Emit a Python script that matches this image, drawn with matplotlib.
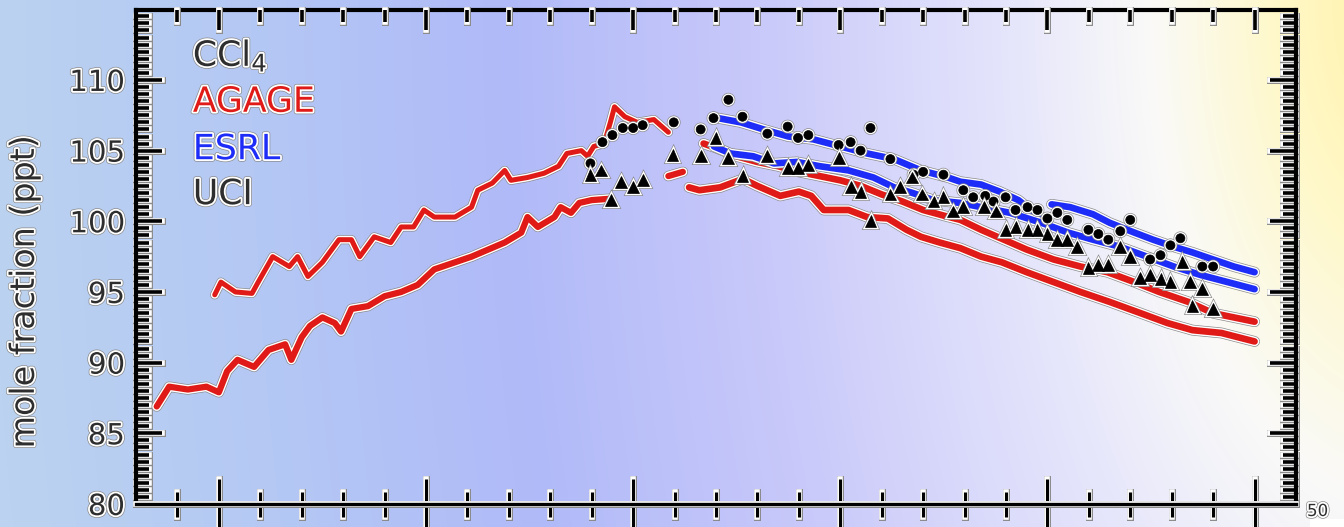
import numpy as np
import matplotlib
matplotlib.use('Agg')
import matplotlib.pyplot as plt
import matplotlib.patheffects as pe
from matplotlib.patches import Rectangle

plt.rcParams['font.family'] = ['DejaVu Sans']
plt.rcParams['mathtext.fontset'] = 'dejavusans'

# ---------------- data ----------------
agage_nh_old_year = [1979.9, 1980.05, 1980.4, 1980.8, 1980.95, 1981.3, 1981.7, 1981.9, 1982.15, 1982.5,
                     1982.9, 1983.2, 1983.4, 1983.75, 1984.15, 1984.4, 1984.7, 1984.95, 1985.2, 1985.7,
                     1986.1, 1986.25, 1986.6, 1986.9, 1987.05, 1987.45, 1987.85, 1988.2, 1988.4, 1988.75,
                     1988.9, 1989.05, 1989.3, 1989.45, 1989.55, 1989.8, 1990.1, 1990.5, 1990.85]
agage_nh_old_val = [94.8, 95.7, 95.0, 94.9, 95.7, 97.5, 96.8, 97.5, 96.1, 97.1,
                    98.7, 98.7, 97.5, 98.9, 98.5, 99.6, 99.6, 100.8, 100.3, 100.3,
                    101.0, 102.2, 102.7, 103.6, 102.9, 103.1, 103.4, 103.9, 104.8, 105.0,
                    104.6, 105.3, 105.5, 107.0, 108.1, 107.4, 107.0, 107.2, 106.3]

agage_sh_old_year = [1978.5, 1978.8, 1979.25, 1979.7, 1980.0, 1980.2, 1980.45, 1980.85, 1981.2, 1981.6,
                     1981.75, 1982.0, 1982.2, 1982.5, 1982.8, 1982.95, 1983.2, 1983.6, 1984.0, 1984.4,
                     1984.8, 1985.2, 1985.6, 1986.1, 1986.5, 1986.9, 1987.3, 1987.45, 1987.7, 1988.1,
                     1988.25, 1988.5, 1988.7, 1989.0, 1989.45]
agage_sh_old_val = [86.9, 88.3, 88.1, 88.3, 87.9, 89.4, 90.2, 89.7, 90.9, 91.3,
                    90.2, 91.8, 92.6, 93.2, 92.8, 92.2, 93.8, 94.0, 94.7, 95.0,
                    95.5, 96.6, 97.0, 97.5, 98.0, 98.5, 99.2, 100.3, 99.6, 100.3,
                    101.0, 100.6, 101.3, 101.5, 101.6]

agage_sh_gap_year = [1990.85, 1991.2]
agage_sh_gap_val = [103.2, 103.5]

agage_nh_new_year = [1991.7, 1992.0, 1992.5, 1993.0, 1993.5, 1994.0, 1994.5, 1995.0, 1995.5, 1996.0,
                     1996.5, 1997.0, 1997.5, 1997.9, 1998.4, 1998.95, 1999.5, 2000.15, 2000.8, 2001.45,
                     2002.1, 2002.7, 2003.4, 2004.0, 2004.5, 2005.0]
agage_nh_new_val = [105.5, 105.2, 104.6, 104.2, 103.9, 103.5, 103.2, 102.9, 102.5, 101.9,
                    101.4, 100.8, 100.4, 100.1, 99.4, 98.7, 98.0, 97.3, 96.8, 96.4,
                    95.7, 95.0, 94.3, 93.5, 93.2, 92.9]

agage_sh_new_year = [1991.35, 1991.6, 1992.1, 1992.65, 1993.0, 1993.55, 1994.0, 1994.3, 1994.6, 1995.2,
                     1995.65, 1996.15, 1996.6, 1996.95, 1997.4, 1997.9, 1998.4, 1998.9, 1999.5, 2000.15,
                     2000.8, 2001.5, 2002.25, 2002.9, 2003.5, 2004.2, 2005.0]
agage_sh_new_val = [102.4, 102.2, 102.4, 103.0, 102.5, 101.8, 102.1, 101.8, 100.8, 100.8,
                    100.3, 100.2, 99.4, 98.9, 98.5, 98.1, 97.5, 97.1, 96.4, 95.7,
                    95.0, 94.3, 93.5, 92.8, 92.3, 92.1, 91.5]

esrl_nh_year = [1992.05, 1992.6, 1993.15, 1993.75, 1994.35, 1995.0, 1995.65, 1996.3, 1996.95, 1997.6,
                1997.9, 1998.4, 1998.85, 1999.3, 1999.6, 1999.8, np.nan, 2000.1, 2000.55, 2001.1,
                2001.5, 2002.1, 2002.55, 2003.05, 2003.5, 2004.0, 2004.5, 2005.0]
esrl_nh_val = [107.3, 107.0, 106.5, 106.0, 105.8, 105.3, 104.8, 104.4, 103.6, 103.1,
               102.8, 102.6, 102.1, 101.5, 100.8, 100.5, np.nan, 101.2, 101.0, 100.5,
               99.9, 99.2, 98.7, 98.2, 97.8, 97.3, 96.8, 96.4]

esrl_sh_year = [1991.95, 1992.35, 1992.9, 1993.4, 1993.95, 1994.5, 1995.2, 1995.8, 1996.3, 1996.75,
                1997.25, 1997.9, 1998.4, 1999.1, 1999.85, 2000.5, 2001.1, 2001.75, 2002.4, 2003.05,
                2003.7, 2004.35, 2005.0]
esrl_sh_val = [105.3, 104.8, 104.6, 104.1, 104.2, 103.9, 103.6, 103.1, 102.4, 102.0,
               101.5, 101.3, 101.0, 100.6, 99.9, 99.2, 98.7, 98.2, 97.5, 96.8,
               96.2, 95.7, 95.2]

uci_nh_year = [1988.97, 1989.26, 1989.5, 1989.75, 1990.0, 1990.23, 1990.98, 1991.63, 1991.94, 1992.3,
               1992.64, 1993.24, 1993.73, 1993.98, 1994.23, 1994.96, 1995.25, 1995.49, 1995.73, 1996.21,
               1996.77, 1997.0, 1997.49, 1997.97, 1998.21, 1998.5, 1998.7, 1998.99, 1999.23, 1999.52,
               1999.76, 2000.0, 2000.24, 2000.48, 2000.99, 2001.23, 2001.47, 2001.76, 2002.0, 2002.48,
               2002.73, 2002.97, 2003.21, 2003.74, 2004.0]
uci_nh_val = [104.1, 105.6, 106.1, 106.6, 106.6, 106.8, 107.0, 106.5, 107.3, 108.6,
              107.4, 106.2, 106.7, 105.9, 106.1, 105.4, 105.6, 105.0, 106.6, 104.4,
              103.3, 103.5, 103.3, 102.2, 101.7, 101.8, 101.4, 101.7, 100.8, 101.0,
              100.8, 100.2, 100.6, 100.1, 99.4, 99.1, 98.7, 99.3, 100.1, 97.3,
              97.6, 98.3, 98.8, 96.8, 96.8]

uci_sh_year = [1988.97, 1989.22, 1989.46, 1989.7, 1989.99, 1990.23, 1990.95, 1991.63, 1991.99, 1992.28,
               1992.64, 1993.24, 1993.73, 1993.98, 1994.23, 1994.96, 1995.25, 1995.49, 1995.73, 1996.21,
               1996.45, 1996.74, 1996.98, 1997.25, 1997.49, 1997.73, 1997.97, 1998.46, 1998.75, 1998.99,
               1999.23, 1999.52, 1999.76, 2000.0, 2000.24, 2000.48, 2000.72, 2000.99, 2001.23, 2001.47,
               2001.76, 2002.0, 2002.24, 2002.48, 2002.73, 2002.97, 2003.26, 2003.45, 2003.5, 2003.74, 2004.0]
uci_sh_val = [103.3, 103.6, 101.5, 102.8, 102.4, 102.9, 104.7, 104.6, 105.9, 104.5,
              103.2, 104.6, 103.8, 103.8, 104.0, 104.5, 102.4, 102.1, 100.0, 101.9,
              102.4, 103.1, 101.9, 101.4, 101.7, 100.7, 101.0, 101.0, 100.7, 99.4,
              99.6, 99.4, 99.4, 99.1, 98.7, 98.7, 98.2, 96.7, 96.9, 96.9,
              98.2, 97.5, 96.0, 96.2, 95.9, 95.7, 97.1, 95.7, 94.0, 95.2, 93.8]

y_major_ticks = [80, 85, 90, 95, 100, 105, 110]
x_major_ticks = [1980, 1985, 1990, 1995, 2000, 2005]
legend_labels = [r'CCl$_{4}$', 'AGAGE', 'ESRL', 'UCI']

# ---------------- styling ----------------
RED = '#e01a16'
BLUE = '#1e2cf8'
TXT = '#2e2e2e'

W, H = 1344, 527
fig = plt.figure(figsize=(W / 100, H / 100), dpi=100)

# background gradient
bg = fig.add_axes([0, 0, 1, 1])
yy, xx = np.mgrid[0:H, 0:W]
d = np.sqrt((xx - 1400.0) ** 2 + (0.5 * yy) ** 2)
stops_d = [0, 120, 250, 400, 650, 900, 1150, 1450]
stops_c = np.array([(255, 240, 165), (255, 248, 200), (250, 250, 248), (228, 228, 252),
                    (200, 200, 250), (176, 186, 248), (180, 200, 244), (188, 212, 240)]) / 255.0
img = np.zeros((H, W, 3))
for k in range(3):
    img[..., k] = np.interp(d, stops_d, stops_c[:, k])
bg.imshow(img, aspect='auto', interpolation='bilinear')
bg.set_axis_off()

ax = fig.add_axes([136 / W, 1 - 504 / H, 1160 / W, 494 / H])
ax.set_facecolor('none')
ax.set_xlim(1978, 2006)
ax.set_ylim(80, 114.95)


def halo(lw_extra_white, lw_extra_gray, base):
    return [pe.Stroke(linewidth=base + lw_extra_gray, foreground='#8a8a8a', capstyle='round', joinstyle='round'),
            pe.Stroke(linewidth=base + lw_extra_white, foreground='white', capstyle='round', joinstyle='round'),
            pe.Normal()]


def draw_line(x, y, color, lw, z):
    ax.plot(x, y, color=color, lw=lw, solid_capstyle='round',
            solid_joinstyle='round', zorder=z, path_effects=halo(2.0, 3.0, lw))


draw_line(agage_sh_old_year, agage_sh_old_val, RED, 4.5, 3)
draw_line(agage_nh_old_year, agage_nh_old_val, RED, 3.6, 3)
draw_line(agage_sh_gap_year, agage_sh_gap_val, RED, 4.5, 3)
draw_line(agage_sh_new_year, agage_sh_new_val, RED, 4.8, 3)
draw_line(agage_nh_new_year, agage_nh_new_val, RED, 4.8, 3)
draw_line(esrl_nh_year, esrl_nh_val, BLUE, 4.8, 4)
draw_line(esrl_sh_year, esrl_sh_val, BLUE, 4.8, 4)

mk_pe = [pe.Stroke(linewidth=3.4, foreground='#8a8a8a'), pe.Stroke(linewidth=2.4, foreground='white'), pe.Normal()]
ax.plot(uci_nh_year, uci_nh_val, linestyle='none', marker='o', ms=6.5, color='black', mec='black',
        mew=0.5, zorder=6, path_effects=mk_pe)
ax.plot(uci_sh_year, uci_sh_val, linestyle='none', marker='^', ms=8.5, color='black', mec='black',
        mew=0.5, zorder=6, path_effects=mk_pe)

# ---------------- axes / ticks ----------------
tick_pe = [pe.Stroke(linewidth=5.0, foreground='#8a8a8a', capstyle='projecting'),
           pe.Stroke(linewidth=4.0, foreground='white', capstyle='projecting'), pe.Normal()]
txt_pe = [pe.Stroke(linewidth=3.6, foreground='#8a8a8a'), pe.Stroke(linewidth=2.6, foreground='white'), pe.Normal()]

for s in ax.spines.values():
    s.set_linewidth(3.0)
    s.set_color('black')
ax.spines['bottom'].set_linewidth(2.4)
ax.spines['bottom'].set_path_effects(tick_pe)

ax.set_yticks(y_major_ticks)
ax.set_yticks(np.arange(80, 115, 0.5), minor=True)
ax.set_xticks(x_major_ticks)
ax.set_xticks(np.arange(1979, 2006, 1), minor=True)
ax.tick_params(axis='y', which='major', direction='in', left=True, right=True, length=19, width=2.6,
               labelsize=21, labelcolor=TXT, pad=8)
ax.tick_params(axis='y', which='minor', direction='in', left=True, right=True, length=9.5, width=2.6)
ax.tick_params(axis='x', which='major', direction='inout', bottom=True, top=False, length=36, width=2.2,
               labelbottom=False)
ax.tick_params(axis='x', which='minor', direction='inout', bottom=True, top=False, length=18, width=2.2)

axt = ax.twiny()
axt.set_xlim(ax.get_xlim())
axt.set_xticks(x_major_ticks)
axt.set_xticks(np.arange(1979, 2006, 1), minor=True)
axt.tick_params(axis='x', which='major', direction='in', top=True, bottom=False, length=14.5, width=2.6,
                labeltop=False)
axt.tick_params(axis='x', which='minor', direction='in', top=True, bottom=False, length=8.6, width=2.6)
for s in axt.spines.values():
    s.set_visible(False)

for a in (ax, axt):
    for axis in (a.xaxis, a.yaxis):
        for t in axis.get_major_ticks() + axis.get_minor_ticks():
            t.tick1line.set_path_effects(tick_pe)
            t.tick2line.set_path_effects(tick_pe)
for t in ax.yaxis.get_major_ticks():
    t.label1.set_path_effects(txt_pe)

ax.set_ylabel('mole fraction (ppt)', fontsize=24, color=TXT)
ax.yaxis.label.set_path_effects(txt_pe)
ax.yaxis.set_label_coords(-0.082, 0.43)

# legend-like labels
leg_colors = [TXT, RED, BLUE, TXT]
leg_y = [0.887, 0.794, 0.698, 0.607]
for lab, col, yv in zip(legend_labels, leg_colors, leg_y):
    ax.text(0.049, yv, lab, transform=ax.transAxes, fontsize=25, color=col, ha='left', va='baseline',
            path_effects=txt_pe, zorder=8)

# fragment of the lower panel's label at the bottom right
fig.patches.append(Rectangle((1310 / W, 0), 40 / W, 8 / H, transform=fig.transFigure,
                             facecolor='white', edgecolor='none', zorder=1))
fig.text(1307 / W, 1 - 502 / H, '50', fontsize=12, color=TXT, ha='left', va='top', path_effects=txt_pe,
         zorder=5)

fig.savefig('out.png', dpi=100)
